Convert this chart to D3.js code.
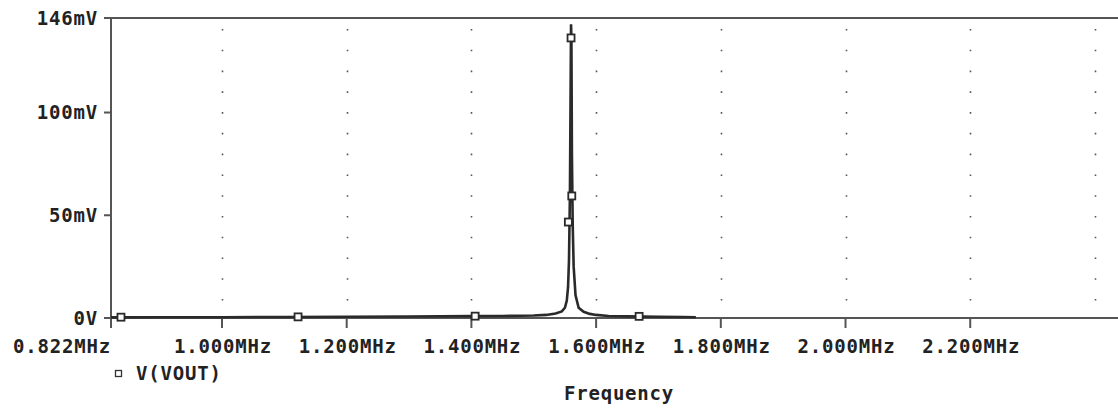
<!DOCTYPE html>
<html>
<head>
<meta charset="utf-8">
<script src="https://cdn.jsdelivr.net/npm/d3@7"></script>
<style>
  html, body { margin: 0; padding: 0; background: #fff; }
  text { font-family: "DejaVu Sans Mono", monospace; font-weight: bold; fill: #222; }
</style>
</head>
<body>
<div id="chart"></div>
<script>
// trace V(VOUT), frequency in MHz, voltage in mV
const freqs = [0.822, 0.9, 1.0, 1.1, 1.2, 1.3, 1.4, 1.45, 1.5, 1.52, 1.535, 1.545, 1.55, 1.553, 1.555,
    1.5565, 1.558, 1.5592, 1.5598, 1.5604, 1.5612, 1.5625, 1.564, 1.567, 1.572, 1.58, 1.59, 1.60,
    1.62, 1.65, 1.70, 1.74, 1.76];
const volts = [0.3, 0.35, 0.4, 0.5, 0.6, 0.75, 0.9, 1.0, 1.2, 1.5, 2.2, 3.2, 5.0, 8.5, 15,
    28, 60, 115, 143, 136, 80, 45, 25, 11, 5, 3.0, 2.0, 1.5,
    1.0, 0.8, 0.6, 0.5, 0.4];

// trace markers
const markerFreqs = [0.838, 1.122, 1.406, 1.5555, 1.5598, 1.561, 1.669];
const markerVolts = [0.4, 0.55, 0.9, 46.7, 136.3, 59.4, 0.8];

const yTicks = [0, 50, 100, 146];
const yTickLabels = ["0V", "50mV", "100mV", "146mV"];
const xTicks = [1.0, 1.2, 1.4, 1.6, 1.8, 2.0, 2.2];
const xTickLabels = ["1.000MHz", "1.200MHz", "1.400MHz", "1.600MHz", "1.800MHz", "2.000MHz", "2.200MHz"];
const xGrid = [1.0, 1.2, 1.4, 1.6, 1.8, 2.0, 2.2, 2.4];
const xMinLabel = "0.822MHz";

(function() {
    const width = 1118;
    const height = 411;
    const left = 111, top = 18, bottom = 318, right = 1118;

    const svg = d3.select("#chart")
        .append("svg")
        .attr("width", width)
        .attr("height", height)
        .attr("viewBox", [0, 0, width, height]);

    const x = d3.scaleLinear().domain([0.822, 2.437]).range([left, right]);
    const y = d3.scaleLinear().domain([0, 146]).range([bottom, top]);

    // dotted vertical grid
    svg.append("g")
        .selectAll("line")
        .data(xGrid)
        .join("line")
        .attr("x1", d => Math.round(x(d)) + 0.5)
        .attr("x2", d => Math.round(x(d)) + 0.5)
        .attr("y1", top + 11)
        .attr("y2", bottom - 4)
        .attr("stroke", "#555")
        .attr("stroke-width", 1.6)
        .attr("stroke-dasharray", "1.6,19.17");

    // frame: top border, left axis, zero line
    svg.append("line")
        .attr("x1", left).attr("x2", right)
        .attr("y1", top).attr("y2", top)
        .attr("stroke", "#555").attr("stroke-width", 2);
    svg.append("line")
        .attr("x1", left).attr("x2", left)
        .attr("y1", top).attr("y2", bottom + 10)
        .attr("stroke", "#555").attr("stroke-width", 2);
    svg.append("line")
        .attr("x1", left).attr("x2", right)
        .attr("y1", y(0)).attr("y2", y(0))
        .attr("stroke", "#555").attr("stroke-width", 2);

    // y axis ticks and labels
    const yAxis = svg.append("g");
    yAxis.selectAll("line")
        .data(yTicks)
        .join("line")
        .attr("x1", left - 7).attr("x2", left)
        .attr("y1", d => y(d)).attr("y2", d => y(d))
        .attr("stroke", "#555").attr("stroke-width", 2);
    yAxis.selectAll("text")
        .data(yTicks)
        .join("text")
        .attr("x", left - 13)
        .attr("y", d => y(d))
        .attr("dy", "0.36em")
        .attr("text-anchor", "end")
        .attr("font-size", 19)
        .attr("letter-spacing", 0.8)
        .text((d, i) => yTickLabels[i]);

    // x axis ticks and labels
    const xAxis = svg.append("g");
    xAxis.selectAll("line")
        .data(xTicks)
        .join("line")
        .attr("x1", d => x(d)).attr("x2", d => x(d))
        .attr("y1", bottom).attr("y2", bottom + 10)
        .attr("stroke", "#555").attr("stroke-width", 2);
    xAxis.selectAll("text")
        .data(xTicks)
        .join("text")
        .attr("x", d => x(d) + 1)
        .attr("y", 353)
        .attr("text-anchor", "middle")
        .attr("font-size", 19)
        .attr("letter-spacing", 0.8)
        .text((d, i) => xTickLabels[i]);
    svg.append("text")
        .attr("x", x(0.822))
        .attr("y", 353)
        .attr("text-anchor", "end")
        .attr("font-size", 19)
        .attr("letter-spacing", 0.8)
        .text(xMinLabel);

    // the trace
    const data = freqs.map((f, i) => ({ f: f, v: volts[i] }));
    const line = d3.line()
        .x(d => x(d.f))
        .y(d => y(d.v));
    svg.append("path")
        .datum(data)
        .attr("fill", "none")
        .attr("stroke", "#2a2a2a")
        .attr("stroke-width", 2.6)
        .attr("d", line);

    // markers
    svg.append("g")
        .selectAll("rect")
        .data(markerFreqs.map((f, i) => ({ f: f, v: markerVolts[i] })))
        .join("rect")
        .attr("x", d => x(d.f) - 3.5)
        .attr("y", d => y(d.v) - 3.5)
        .attr("width", 7)
        .attr("height", 7)
        .attr("fill", "#fff")
        .attr("stroke", "#2a2a2a")
        .attr("stroke-width", 1.8);

    // legend
    svg.append("rect")
        .attr("x", 115.5).attr("y", 370.5)
        .attr("width", 6).attr("height", 6)
        .attr("fill", "none")
        .attr("stroke", "#333").attr("stroke-width", 1.3);
    svg.append("text")
        .attr("x", 136)
        .attr("y", 380)
        .attr("font-size", 19)
        .attr("letter-spacing", 0.8)
        .text("V(VOUT)");

    // axis title
    svg.append("text")
        .attr("x", 619)
        .attr("y", 400)
        .attr("text-anchor", "middle")
        .attr("font-size", 19)
        .attr("letter-spacing", 0.8)
        .text("Frequency");
})();
</script>
</body>
</html>
